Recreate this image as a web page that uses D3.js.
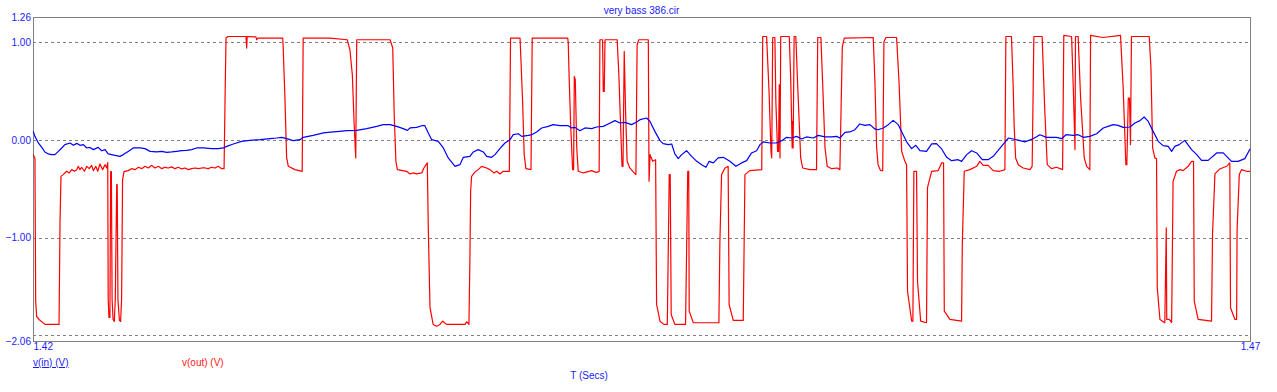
<!DOCTYPE html>
<html><head><meta charset="utf-8">
<script src="https://cdn.jsdelivr.net/npm/d3@7"></script>
<style>
html,body{margin:0;padding:0;background:#fff;}
text{font-family:"Liberation Sans",Arial,sans-serif;}
</style></head>
<body><svg id="c" width="1277" height="392"></svg>
<script>
const title = "very bass 386.cir";
const xLabel = "T (Secs)";
const seriesNames = ["v(in) (V)", "v(out) (V)"];
const yTickValues = [1.26, 1.00, 0.00, -1.00, -2.06];
const yGridValues = [1.00, 0.00, -1.00, -2.00];
const xTickValues = [1.42, 1.47];

// v(out) (V) — red
const outT = [1.42001,1.42008,1.42011,1.42015,1.42025,1.42049,1.42107,1.42111,1.42115,1.42124,1.42138,1.42149,1.42159,1.42170,1.42180,1.42186,1.42193,1.42200,1.42211,1.42221,1.42231,1.42241,1.42248,1.42258,1.42266,1.42275,1.42286,1.42296,1.42303,1.42307,
1.42309,1.42312,1.42316,1.42319,1.42322,1.42325,1.42329,1.42334,1.42338,1.42344,1.42346,1.42349,1.42355,1.42360,1.42364,1.42368,1.42374,
1.42391,1.42405,1.42419,1.42433,1.42447,1.42460,1.42474,1.42488,1.42501,1.42515,1.42529,1.42542,1.42556,1.42570,1.42583,1.42597,1.42611,1.42624,1.42638,1.42652,1.42666,1.42679,1.42693,1.42707,1.42720,1.42734,1.42748,1.42761,1.42775,1.42785,
1.42789,1.42793,1.42801,1.42875,1.42878,1.42880,1.42916,1.42919,1.42924,1.43026,1.43028,1.43035,1.43042,1.43049,1.43076,1.43106,1.43110,1.43220,1.43291,1.43302,1.43312,1.43319,1.43326,1.43330,1.43467,1.43478,1.43484,1.43491,1.43497,1.43535,1.43549,1.43562,1.43576,1.43597,1.43606,1.43620,1.43624,1.43631,1.43644,1.43658,1.43672,1.43683,1.43699,1.43775,1.43782,1.43791,1.43795,1.43798,1.43802,1.43816,1.43829,1.43843,1.43864,1.43877,1.43894,1.43905,1.43918,1.43932,1.43957,
1.43962,1.44001,1.44005,1.44012,1.44018,1.44025,1.44046,1.44051,1.44197,1.44199,1.44203,1.44209,1.44217,1.44221,1.44224,1.44228,1.44234,1.44240,1.44261,1.44295,1.44313,1.44326,1.44329,1.44340,1.44343,1.44347,1.44350,1.44400,1.44407,1.44414,1.44420,1.44424,1.44429,1.44435,1.44441,1.44452,1.44465,1.44477,1.44482,1.44489,1.44528,1.44531,1.44535,1.44546,1.44558,1.44562,1.44576,1.44592,1.44606,1.44614,1.44618,1.44622,1.44637,1.44681,1.44690,1.44694,1.44696,1.44713,1.44818,1.44822,1.44829,1.44843,1.44856,1.44860,1.44877,1.44918,1.44925,1.44945,1.44994,
1.44998,1.45014,1.45024,1.45032,1.45035,1.45039,1.45048,1.45052,1.45059,1.45063,1.45066,1.45069,1.45072,1.45107,1.45113,1.45119,1.45121,1.45123,1.45127,1.45134,1.45141,1.45154,1.45162,1.45192,1.45219,1.45224,1.45237,1.45244,1.45254,1.45263,1.45281,1.45304,1.45315,1.45325,1.45333,1.45452,1.45459,1.45466,1.45472,1.45482,1.45491,1.45496,1.45504,1.45548,1.45558,1.45569,1.45582,1.45589,1.45593,1.45610,1.45615,1.45619,1.45630,1.45634,1.45647,1.45671,1.45675,1.45692,1.45719,1.45733,1.45741,1.45744,1.45767,1.45815,1.45818,1.45826,1.45849,1.45877,1.45890,1.45904,1.45924,1.45945,1.45972,1.45993,
1.45997,1.46020,1.46027,1.46031,1.46037,1.46048,1.46068,1.46096,1.46105,1.46112,1.46146,1.46157,1.46167,1.46185,1.46205,1.46230,1.46235,1.46267,1.46274,1.46281,1.46283,1.46294,1.46304,1.46319,1.46329,1.46342,1.46345,1.46396,1.46468,1.46479,1.46490,1.46494,1.46500,1.46505,1.46509,1.46513,1.46586,1.46593,1.46600,1.46609,1.46616,1.46619,1.46630,1.46650,1.46656,1.46658,1.46668,1.46678,1.46684,1.46698,1.46712,1.46725,1.46746,1.46760,1.46768,1.46771,1.46787,1.46842,1.46846,1.46856,1.46876,1.46904,1.46917,1.46920,1.46938,1.46945,1.46947,1.46956,1.46965,1.46986,1.47000];
const outV = [-0.150,-0.191,-1.655,-1.809,-1.839,-1.890,-1.890,-0.846,-0.373,-0.355,-0.321,-0.338,-0.304,-0.321,-0.304,-0.270,-0.304,-0.280,-0.321,-0.270,-0.294,-0.260,-0.314,-0.270,-0.321,-0.246,-0.304,-0.253,-0.287,-0.232,
-1.635,-1.819,-1.819,-0.324,-0.324,-1.635,-1.839,-1.860,-1.635,-0.457,-0.457,-1.635,-1.849,-1.860,-1.635,-0.406,-0.324,
-0.314,-0.294,-0.304,-0.280,-0.294,-0.270,-0.287,-0.260,-0.287,-0.270,-0.294,-0.280,-0.287,-0.276,-0.294,-0.280,-0.297,-0.287,-0.304,-0.294,-0.287,-0.294,-0.287,-0.287,-0.294,-0.280,-0.287,-0.270,-0.294,-0.294,
0.412,1.044,1.060,1.060,0.942,1.060,1.057,1.027,1.044,1.044,0.942,0.433,-0.181,-0.270,-0.304,-0.321,1.044,1.044,1.027,0.924,0.668,0.190,-0.184,1.027,1.027,0.942,0.259,-0.219,-0.304,-0.321,-0.348,-0.338,-0.348,-0.338,-0.287,-0.235,-0.898,-1.716,-1.890,-1.908,-1.890,-1.857,-1.890,-1.890,-1.863,-1.890,-1.225,-0.526,-0.373,-0.328,-0.304,-0.270,-0.287,-0.304,-0.338,-0.321,-0.348,-0.321,-0.321,
1.044,1.044,0.804,0.361,-0.150,-0.294,-0.304,1.044,1.044,0.996,0.617,0.157,-0.304,-0.304,0.651,0.617,-0.079,-0.321,-0.338,-0.314,-0.332,-0.324,1.027,1.027,0.497,0.497,1.027,1.027,0.668,0.157,-0.270,-0.270,0.907,0.259,-0.219,-0.287,-0.324,-0.355,0.975,1.027,1.027,-0.424,-0.150,-0.219,-0.202,-1.686,-1.857,-1.890,-1.890,-0.355,-0.355,-1.788,-1.890,-1.890,-0.321,-0.321,-1.754,-1.873,-1.873,-1.051,-0.355,-0.287,-0.270,-1.686,-1.849,-1.849,-0.355,-0.314,-0.304,
1.060,1.060,0.497,-0.117,-0.184,1.050,1.050,0.395,-0.117,-0.117,0.566,-0.184,1.060,1.060,0.635,-0.082,0.190,-0.082,1.060,1.060,0.600,-0.184,-0.287,-0.304,-0.304,1.050,1.050,0.600,-0.082,-0.270,-0.294,-0.287,-0.304,0.955,1.044,1.050,0.600,-0.082,-0.253,-0.314,-0.314,1.006,1.050,1.050,0.600,-0.117,-0.219,-0.253,-1.550,-1.857,-1.857,-0.321,-0.321,-1.447,-1.857,-1.873,-0.488,-0.321,-0.314,-0.235,-0.235,-1.754,-1.839,-1.857,-1.072,-0.321,-0.304,-0.270,-0.219,-0.260,-0.260,-0.314,-0.321,-0.304,
1.060,1.060,0.549,0.157,-0.184,-0.253,-0.287,-0.304,-0.270,1.060,1.060,0.293,-0.253,-0.294,-0.280,-0.304,1.071,1.060,0.532,-0.099,1.060,1.060,0.430,-0.184,-0.270,-0.304,1.071,1.050,1.071,0.532,-0.253,-0.253,0.430,0.430,-0.048,1.060,1.060,0.737,-0.082,-0.184,-0.191,-1.515,-1.839,-1.873,-0.901,-1.839,-1.839,-1.870,-0.424,-0.321,-0.304,-0.314,-0.270,-0.219,-0.219,-1.652,-1.839,-1.857,-0.969,-0.348,-0.297,-0.270,-0.235,-1.719,-1.839,-1.839,-0.918,-0.355,-0.304,-0.321,-0.321];

// v(in) (V) — blue
const inT = [1.42001,1.42008,1.42022,1.42036,1.42049,1.42063,1.42077,1.42090,1.42104,1.42118,1.42131,1.42152,1.42166,1.42180,1.42193,1.42207,1.42221,1.42234,1.42248,1.42268,1.42282,1.42296,1.42309,1.42323,1.42337,1.42357,1.42371,1.42391,1.42412,1.42440,1.42460,1.42481,1.42508,1.42529,1.42549,1.42570,1.42590,1.42611,1.42631,1.42652,1.42672,1.42700,1.42734,1.42761,1.42782,1.42796,1.42823,1.42857,1.42891,1.42933,1.42974,1.43001,1.43022,1.43042,1.43069,1.43097,1.43110,1.43151,1.43193,1.43234,1.43261,1.43289,1.43330,1.43371,1.43412,1.43439,1.43467,1.43494,1.43521,1.43538,1.43549,1.43576,1.43597,1.43610,1.43624,1.43638,1.43665,1.43686,1.43706,1.43734,1.43754,1.43768,1.43795,1.43809,1.43829,1.43850,1.43864,1.43884,1.43898,1.43918,1.43939,1.43960,1.43973,1.43994,1.44008,1.44035,1.44049,1.44069,1.44090,1.44117,1.44137,1.44165,1.44199,1.44213,1.44227,1.44247,1.44268,1.44295,1.44316,1.44343,1.44363,1.44391,1.44411,1.44432,1.44459,1.44480,1.44494,1.44521,1.44535,1.44555,1.44576,1.44589,1.44610,1.44624,1.44637,1.44651,1.44665,1.44685,1.44706,1.44727,1.44747,1.44765,1.44778,1.44795,1.44815,1.44836,1.44863,1.44888,1.44911,1.44932,1.44952,1.44973,1.44987,1.45000,1.45028,1.45055,1.45076,1.45096,1.45117,1.45137,1.45158,1.45178,1.45206,1.45226,1.45254,1.45281,1.45302,1.45315,1.45336,1.45356,1.45377,1.45397,1.45418,1.45438,1.45459,1.45472,1.45493,1.45514,1.45534,1.45555,1.45575,1.45592,1.45610,1.45627,1.45644,1.45671,1.45692,1.45712,1.45733,1.45754,1.45774,1.45801,1.45815,1.45836,1.45856,1.45877,1.45900,1.45924,1.45945,1.45979,1.46007,1.46027,1.46055,1.46075,1.46109,1.46137,1.46164,1.46205,1.46226,1.46244,1.46274,1.46294,1.46315,1.46342,1.46370,1.46397,1.46417,1.46438,1.46458,1.46479,1.46507,1.46527,1.46548,1.46565,1.46582,1.46602,1.46623,1.46643,1.46664,1.46678,1.46691,1.46709,1.46732,1.46760,1.46781,1.46801,1.46828,1.46863,1.46890,1.46924,1.46951,1.46979,1.47000];
const inV = [0.088,0.037,-0.031,-0.076,-0.123,-0.143,-0.150,-0.150,-0.117,-0.082,-0.048,-0.031,-0.055,-0.035,-0.055,-0.048,-0.082,-0.076,-0.099,-0.076,-0.110,-0.099,-0.143,-0.150,-0.158,-0.168,-0.150,-0.117,-0.082,-0.082,-0.089,-0.117,-0.123,-0.117,-0.127,-0.123,-0.117,-0.110,-0.106,-0.099,-0.082,-0.082,-0.089,-0.089,-0.082,-0.066,-0.041,-0.014,-0.004,0.003,0.013,0.020,0.027,0.013,-0.007,0.003,0.027,0.047,0.072,0.082,0.088,0.095,0.098,0.116,0.139,0.157,0.157,0.139,0.116,0.098,0.123,0.129,0.146,0.146,0.072,0.003,-0.014,-0.082,-0.184,-0.270,-0.253,-0.178,-0.168,-0.123,-0.099,-0.123,-0.168,-0.178,-0.150,-0.089,-0.031,0.003,0.054,0.064,0.037,0.047,0.054,0.082,0.123,0.139,0.157,0.146,0.146,0.123,0.129,0.095,0.123,0.116,0.133,0.139,0.164,0.198,0.174,0.180,0.157,0.184,0.208,0.225,0.190,0.088,-0.007,-0.038,-0.048,-0.041,-0.143,-0.191,-0.150,-0.110,-0.168,-0.219,-0.253,-0.280,-0.219,-0.235,-0.184,-0.178,-0.219,-0.270,-0.235,-0.212,-0.133,-0.110,-0.048,-0.020,-0.031,-0.031,-0.007,0.027,0.020,0.037,0.010,0.031,0.020,0.047,0.031,0.031,0.037,0.020,0.078,0.082,0.105,0.164,0.149,0.157,0.113,0.105,0.123,0.157,0.201,0.157,0.054,-0.031,-0.089,-0.055,-0.110,-0.117,-0.041,-0.038,-0.092,-0.178,-0.212,-0.202,-0.219,-0.150,-0.110,-0.133,-0.202,-0.202,-0.168,-0.066,0.020,0.010,-0.007,-0.020,0.013,0.054,0.027,0.027,0.013,0.054,0.047,0.054,0.027,0.037,0.064,0.123,0.139,0.157,0.149,0.129,0.133,0.174,0.198,0.235,0.190,0.088,-0.014,-0.058,-0.066,-0.117,-0.066,-0.048,-0.004,-0.099,-0.150,-0.209,-0.209,-0.133,-0.133,-0.219,-0.219,-0.191,-0.092];

const inData = inT.map((t, i) => ({t, v: inV[i]}));
const outData = outT.map((t, i) => ({t, v: outV[i]}));

const svg = d3.select("#c");
const L = 33, R = 1250, T = 17, B = 341;
const x = d3.scaleLinear().domain([1.42, 1.47]).range([L, R]);
const y = d3.scaleLinear().domain([-2.06, 1.26]).range([B, T]);
const labelBlue = "#1a1aff";

// grid
svg.append("g").selectAll("line").data(yGridValues).join("line")
  .attr("x1", L).attr("x2", R)
  .attr("y1", d => Math.round(y(d)) + 0.5).attr("y2", d => Math.round(y(d)) + 0.5)
  .attr("stroke", "#808080").attr("stroke-width", 1).attr("stroke-dasharray", "3,3");

// frame
svg.append("rect").attr("x", L + 0.5).attr("y", T + 0.5)
  .attr("width", R - L).attr("height", B - T)
  .attr("fill", "none").attr("stroke", "#808080").attr("stroke-width", 1);

// y axis labels
const yAxis = d3.axisLeft(y).tickValues(yTickValues).tickSize(0).tickPadding(2).tickFormat(d3.format(".2f"));
const gy = svg.append("g").attr("transform", `translate(${L},0)`).call(yAxis);
gy.select(".domain").remove();
gy.selectAll("text").attr("fill", labelBlue).style("font-size", "10px").style("font-family", '"Liberation Sans", Arial, sans-serif');

// x axis labels
const xAxis = d3.axisBottom(x).tickValues(xTickValues).tickSize(0).tickPadding(2).tickFormat(d3.format(".2f"));
const gx = svg.append("g").attr("transform", `translate(0,${B})`).call(xAxis);
gx.select(".domain").remove();
gx.selectAll("text").attr("fill", labelBlue).style("font-size", "10px").style("font-family", '"Liberation Sans", Arial, sans-serif');
gx.selectAll(".tick").filter(d => d === xTickValues[0]).select("text").attr("text-anchor", "start").attr("dx", 0);

// lines
const line = d3.line().x(d => x(d.t)).y(d => y(d.v));
svg.append("path").datum(outData).attr("d", line)
  .attr("fill", "none").attr("stroke", "#ff0000").attr("stroke-width", 1.2).attr("stroke-linejoin", "round");
svg.append("path").datum(inData).attr("d", line)
  .attr("fill", "none").attr("stroke", "#0000ff").attr("stroke-width", 1.2).attr("stroke-linejoin", "round");

// title
svg.append("text").attr("x", (L + R) / 2).attr("y", 14).attr("text-anchor", "middle")
  .attr("fill", labelBlue).style("font-size", "10px").text(title);

// legend
const leg = svg.append("g");
leg.append("text").attr("x", L).attr("y", 366).attr("fill", labelBlue).style("font-size", "10px")
  .style("text-decoration", "underline").text(seriesNames[0]);
leg.append("text").attr("x", 182).attr("y", 366).attr("fill", "#ff2020").style("font-size", "10px").text(seriesNames[1]);

// x label
svg.append("text").attr("x", 589).attr("y", 379).attr("text-anchor", "middle")
  .attr("fill", labelBlue).style("font-size", "10px").text(xLabel);
</script>
</body></html>
